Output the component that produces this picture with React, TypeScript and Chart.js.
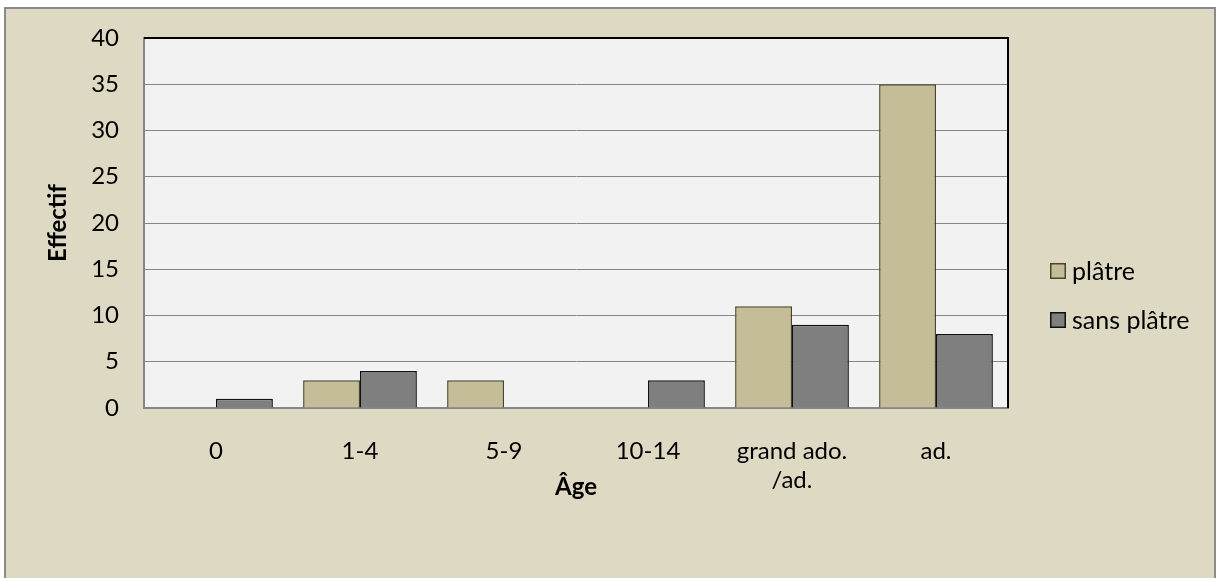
import React, { useEffect, useRef } from 'react';
import { Chart, registerables } from 'chart.js';

Chart.register(...registerables);

const categories: (string | string[])[] = ['0', '1-4', '5-9', '10-14', ['grand ado.', '/ad.'], 'ad.'];
const platre = [0, 3, 3, 0, 11, 35];
const sansPlatre = [1, 4, 0, 3, 9, 8];
const seriesLabels = ['plâtre', 'sans plâtre'];
const seriesFill = ['#c4bd97', '#7f7f7f'];
const seriesBorder = ['#4a452a', '#111111'];
const yMin = 0;
const yMax = 40;
const yStep = 5;
const xTitle = 'Âge';
const yTitle = 'Effectif';

const FONT = 'Lato';
const FS = 24;

export default function App() {
  const ref = useRef<HTMLCanvasElement>(null);

  useEffect(() => {
    document.body.style.margin = '0';
    const canvas = ref.current;
    if (!canvas) return;

    const deco = {
      id: 'deco',
      beforeDraw(chart: any) {
        const { ctx, width, height, chartArea } = chart;
        ctx.save();
        ctx.fillStyle = '#ffffff';
        ctx.fillRect(0, 0, width, height);
        ctx.fillStyle = '#ddd9c3';
        ctx.fillRect(5, 8, width - 6, height);
        ctx.strokeStyle = '#8a8a8a';
        ctx.lineWidth = 2;
        ctx.strokeRect(5, 8, width - 6, height + 20);
        ctx.fillStyle = '#f2f2f2';
        ctx.fillRect(chartArea.left, chartArea.top, chartArea.right - chartArea.left, chartArea.bottom - chartArea.top);
        ctx.restore();
      },
      afterDraw(chart: any) {
        const { ctx, chartArea } = chart;
        ctx.save();
        ctx.strokeStyle = '#000000';
        ctx.lineWidth = 2;
        ctx.beginPath();
        ctx.moveTo(chartArea.left, chartArea.top);
        ctx.lineTo(chartArea.right, chartArea.top);
        ctx.lineTo(chartArea.right, chartArea.bottom);
        ctx.stroke();
        // legend
        const ds = chart.data.datasets;
        const x0 = 1050;
        const ys = [271, 320];
        ctx.font = `25px ${FONT}`;
        ctx.textBaseline = 'middle';
        ctx.textAlign = 'left';
        ds.forEach((d: any, i: number) => {
          const y = ys[i];
          ctx.fillStyle = d.backgroundColor;
          ctx.fillRect(x0, y - 8, 16, 16);
          ctx.strokeStyle = d.borderColor;
          ctx.lineWidth = 1.5;
          ctx.strokeRect(x0 + 0.75, y - 7.25, 14.5, 14.5);
          ctx.fillStyle = '#000000';
          ctx.fillText(d.label, x0 + 22, y + 1);
        });
        ctx.restore();
      },
    };

    const chart = new Chart(canvas, {
      type: 'bar',
      data: {
        labels: categories,
        datasets: [
          {
            label: seriesLabels[0],
            data: platre,
            backgroundColor: seriesFill[0],
            borderColor: seriesBorder[0],
            borderWidth: 1.5,
          },
          {
            label: seriesLabels[1],
            data: sansPlatre,
            backgroundColor: seriesFill[1],
            borderColor: seriesBorder[1],
            borderWidth: 1.5,
          },
        ],
      },
      options: {
        responsive: false,
        animation: false,
        layout: { padding: { top: 38, right: 208, left: 0, bottom: 0 } },
        datasets: { bar: { categoryPercentage: 0.79, barPercentage: 1 } },
        plugins: {
          legend: { display: false },
          tooltip: { enabled: false },
        },
        scales: {
          x: {
            grid: { display: false, drawTicks: false },
            border: { display: true, color: '#868686', width: 2 },
            ticks: { color: '#000', font: { family: FONT, size: FS }, padding: 29, maxRotation: 0, autoSkip: false },
            title: { display: true, text: xTitle, color: '#000', font: { family: FONT, size: FS, weight: 'bold' }, padding: { top: 0, bottom: 76 } },
            afterFit(scale: any) { scale.height = 170; scale.paddingLeft = 0; scale.paddingRight = 0; },
          },
          y: {
            min: yMin,
            max: yMax,
            ticks: { stepSize: yStep, color: '#000', font: { family: FONT, size: FS }, padding: 25 },
            grid: { color: '#868686', lineWidth: 1, drawTicks: false },
            border: { display: true, color: '#868686', width: 2 },
            title: { display: true, text: yTitle, color: '#000', font: { family: FONT, size: FS, weight: 'bold' }, padding: { top: 44, bottom: 0 } },
            afterFit(scale: any) { scale.width = 144; scale.paddingTop = 0; scale.paddingBottom = 0; },
          },
        },
      },
      plugins: [deco],
    } as any);

    return () => chart.destroy();
  }, []);

  return (
    <div style={{ width: 1216, height: 578 }}>
      <canvas ref={ref} width={1216} height={578} />
    </div>
  );
}
